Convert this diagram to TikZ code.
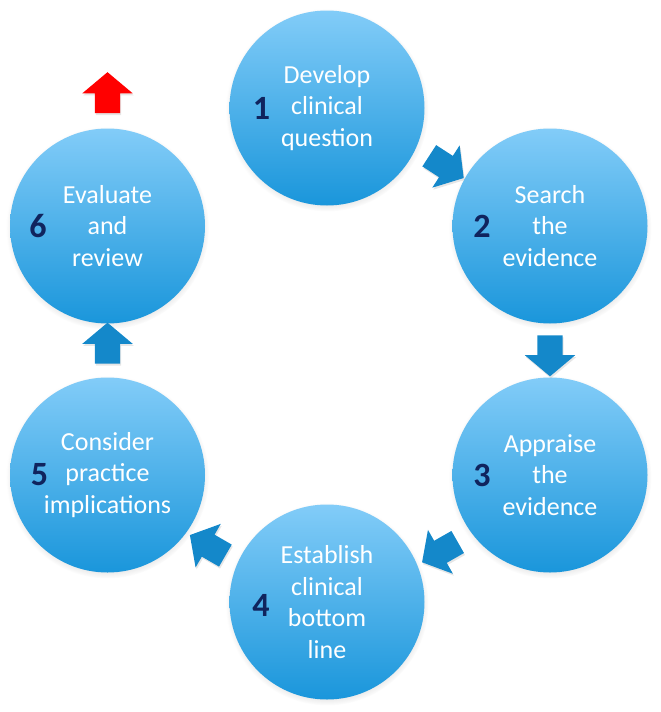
\documentclass[tikz,border=0pt]{standalone}
\usepackage{fontspec}
\setmainfont{Carlito}
\usetikzlibrary{shapes.arrows,shadows,calc}
\definecolor{ctop}{RGB}{130,204,248}
\definecolor{cbot}{RGB}{26,150,219}
\definecolor{arrowblue}{RGB}{20,136,202}
\definecolor{numnavy}{RGB}{16,36,94}
\begin{document}
\begin{tikzpicture}[x=1pt,y=-1pt,
  stepcircle/.style={circle, minimum size=195pt, inner sep=0pt,
    top color=ctop, bottom color=cbot, draw=none,
    circular drop shadow={shadow xshift=0pt, shadow yshift=-2pt, shadow scale=1.04, opacity=0.35},
    text=white, font=\fontsize{26}{31.5}\selectfont, align=center},
  stepnum/.style={text=numnavy, font=\fontsize{34}{34}\selectfont\bfseries, inner sep=0pt},
  blockarrow/.style={single arrow, fill=arrowblue, draw=none, minimum height=41pt,
    inner xsep=0pt, inner ysep=12.5pt, single arrow head extend=12.5pt,
    single arrow tip angle=100,
    drop shadow={shadow xshift=1pt, shadow yshift=-2pt, opacity=0.2}},
  flowarrow/.style={blockarrow, sloped, allow upside down},
]
\useasboundingbox (0,0) rectangle (661,712);

\node[stepcircle] (c1) at (327,108) {Develop\\clinical\\question};
\node[stepcircle] (c2) at (550,226) {Search\\the\\evidence};
\node[stepcircle] (c3) at (550,475) {Appraise\\the\\evidence};
\node[stepcircle] (c4) at (327,602) {Establish\\clinical\\bottom\\line};
\node[stepcircle] (c5) at (107.5,475) {Consider\\practice\\implications};
\node[stepcircle] (c6) at (107.5,226) {Evaluate\\and\\review};

\node[stepnum] (n1) at ([xshift=-65.5pt]c1.center) {1};
\node[stepnum] (n2) at ([xshift=-68pt]c2.center) {2};
\node[stepnum] (n3) at ([xshift=-68pt]c3.center) {3};
\node[stepnum] (n4) at ([xshift=-66pt,yshift=-3pt]c4.center) {4};
\node[stepnum] (n5) at ([xshift=-68pt]c5.center) {5};
\node[stepnum] (n6) at ([xshift=-69.5pt]c6.center) {6};

\path ($(c1.center)+(3.5,-3)$) -- node[flowarrow, rotate=-5] (a12) {} ($(c2.center)+(3.5,-3)$);
\path (c2.center) -- node[flowarrow] (a23) {} (c3.center);
\path ($(c3.center)+(6,11)$) -- node[flowarrow] (a34) {} ($(c4.center)+(6,11)$);
\path ($(c4.center)+(-5,9.5)$) -- node[flowarrow] (a45) {} ($(c5.center)+(-5,9.5)$);
\path ($(c5.center)+(0,-2)$) -- node[flowarrow] (a56) {} ($(c6.center)+(0,-2)$);

\node[blockarrow, fill=red, rotate=90] (exit) at ([yshift=128pt]c6.center) {};
\end{tikzpicture}
\end{document}
